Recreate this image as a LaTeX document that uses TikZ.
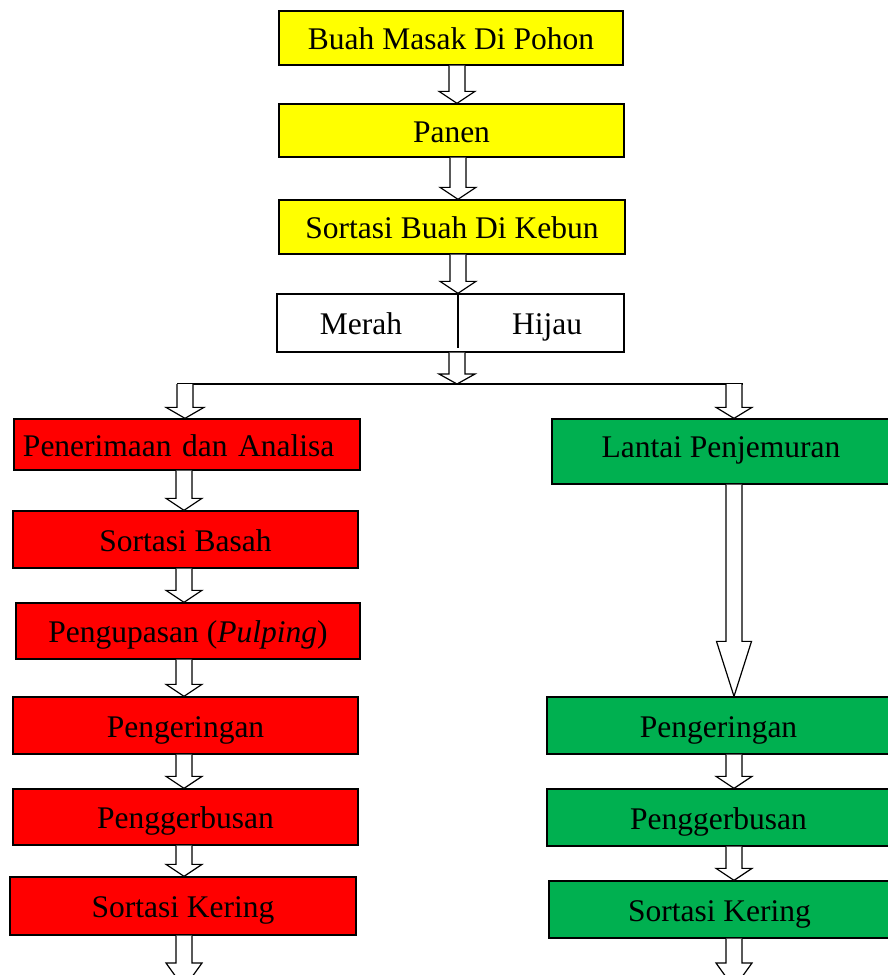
\documentclass[tikz,border=0pt]{standalone}
\usepackage{fontspec}
\setmainfont{Liberation Serif}
\usetikzlibrary{calc}
\definecolor{kyellow}{HTML}{FFFF00}
\definecolor{kred}{HTML}{FF0000}
\definecolor{kgreen}{HTML}{00B050}
\tikzset{
  txt/.style={inner sep=0pt, text height=25.8pt, text depth=2.2pt, font=\fontsize{31.5}{36}\selectfont},
  box/.style={txt, draw=black, line width=1.3pt},
  ybox/.style={box, fill=kyellow},
  wbox/.style={box, fill=white},
  rbox/.style={box, fill=kred},
  gbox/.style={box, fill=kgreen},
  blk/.style={draw=black, line width=1.2pt, fill=white, line join=miter},
  joinline/.style={draw=black, line width=1.2pt}
}
% #1 x, #2 from, #3 to, #4 head length, #5 head half width
\newcommand{\blockarrow}[5]{%
  \draw[blk] let \p1=(#2), \p2=(#3) in
    (#1pt-8pt,\y1) -- (#1pt-8pt,\y2+#4pt) -- (#1pt-#5pt,\y2+#4pt) -- (#1pt,\y2)
    -- (#1pt+#5pt,\y2+#4pt) -- (#1pt+8pt,\y2+#4pt) -- (#1pt+8pt,\y1);}
\begin{document}
\begin{tikzpicture}[x=1pt,y=1pt]
\useasboundingbox (0,0) rectangle (888,-975);
\clip (0,0) rectangle (888,-975);
% top chain
\node[ybox, minimum width=344, minimum height=54] (buah) at (451,-38) {Buah Masak Di Pohon};
\node[ybox, minimum width=345, minimum height=53] (panen) at (451.5,-130.5) {Panen};
\node[ybox, minimum width=346, minimum height=54] (sortb) at (452,-227) {Sortasi Buah Di Kebun};
\node[wbox, minimum width=347, minimum height=58] (mh) at (450.5,-323) {};
\draw[line width=1.3pt] ($(mh.north)+(7.5,0)$) -- ($(mh.south)+(7.5,5)$);
\node[txt] (merah) at (361,-323) {Merah};
\node[txt] (hijau) at (547,-323) {Hijau};
% left column
\node[rbox, minimum width=346, minimum height=51, text width=328, align=left, inner xsep=9] (pen) at (187,-444.5) {Penerimaan dan Analisa};
\node[rbox, minimum width=345, minimum height=57] (basah) at (185.5,-539.5) {Sortasi Basah};
\node[rbox, minimum width=344, minimum height=56] (kupas) at (188,-631) {Pengupasan (\textit{Pulping})};
\node[rbox, minimum width=345, minimum height=57] (keringL) at (185.5,-725.5) {Pengeringan};
\node[rbox, minimum width=345, minimum height=56] (gerbusL) at (185.5,-817) {Penggerbusan};
\node[rbox, minimum width=346, minimum height=58] (sortkL) at (183,-906) {Sortasi Kering};
% right column
\node[gbox, minimum width=338, minimum height=65, text depth=14pt] (lantai) at (721,-451.5) {Lantai Penjemuran};
\node[gbox, minimum width=343, minimum height=57] (keringR) at (718.5,-725.5) {Pengeringan};
\node[gbox, minimum width=343, minimum height=57] (gerbusR) at (718.5,-817.5) {Penggerbusan};
\node[gbox, minimum width=341, minimum height=57] (sortkR) at (719.5,-909.5) {Sortasi Kering};
% branch line
\coordinate (jl) at (177,-384);
\coordinate (jr) at (743,-384);
\coordinate (endL) at (184,-988);
\coordinate (endR) at (734,-988);
\draw[joinline] (jl) -- (jr);
% arrows
\blockarrow{457}{buah.south}{panen.north}{12}{18}
\blockarrow{458}{panen.south}{sortb.north}{12}{18}
\blockarrow{458}{sortb.south}{mh.north}{12}{18}
\blockarrow{457}{mh.south}{jl}{10}{18}
\blockarrow{185}{jl}{pen.north}{11}{19}
\blockarrow{734}{jr}{lantai.north}{11}{18}
\blockarrow{184}{pen.south}{basah.north}{12}{18}
\blockarrow{184}{basah.south}{kupas.north}{12}{18}
\blockarrow{184}{kupas.south}{keringL.north}{12}{18}
\blockarrow{184}{keringL.south}{gerbusL.north}{12}{18}
\blockarrow{184}{gerbusL.south}{sortkL.north}{12}{18}
\blockarrow{184}{sortkL.south}{endL}{25}{18}
\blockarrow{734}{lantai.south}{keringR.north}{55}{17.5}
\blockarrow{734}{keringR.south}{gerbusR.north}{12}{18}
\blockarrow{734}{gerbusR.south}{sortkR.north}{12}{18}
\blockarrow{734}{sortkR.south}{endR}{25}{18}
\end{tikzpicture}
\end{document}
